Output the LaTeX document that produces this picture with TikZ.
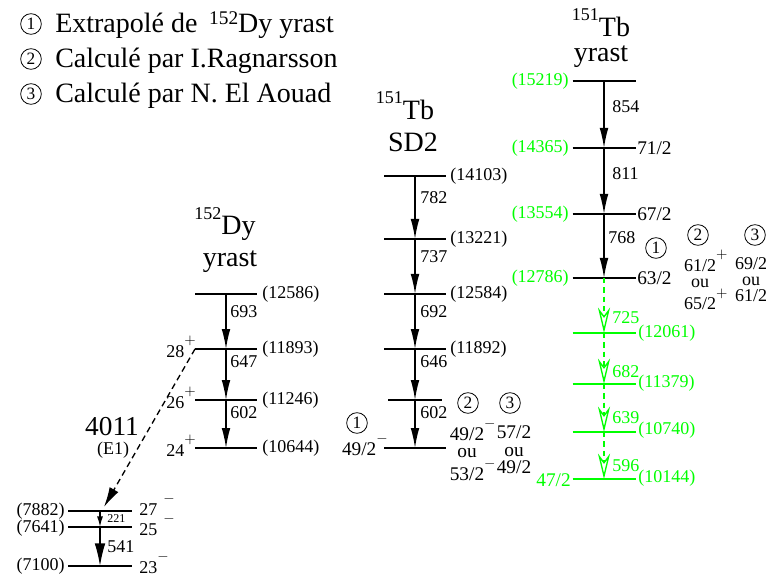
\documentclass[tikz,border=0pt]{standalone}
\usepackage{fontspec}
\setmainfont{Liberation Serif}
\usetikzlibrary{arrows.meta}

\newcommand\iso[2]{\raisebox{12pt}{\fontsize{13.5}{13.5}\selectfont #1}#2}
\newcommand\up[1]{\raisebox{9.5pt}{\fontsize{11}{11}\selectfont$#1$}}

\begin{document}
\begin{tikzpicture}[x=0.75pt, y=-0.75pt,
    lvl/.style={line width=1.3pt},
    tr/.style={line width=1pt, -{Latex[length=15pt,width=6.5pt]}},
    gtr/.style={line width=1pt, green, dash pattern=on 4pt off 3pt, -{Stealth[open,length=19pt,width=9pt,inset=6pt]}},
    big/.style={inner sep=0pt, font=\fontsize{21}{24}\selectfont},
    num/.style={inner sep=0pt, font=\fontsize{13.5}{16}\selectfont},
    spin/.style={inner sep=0pt, font=\fontsize{14.5}{17}\selectfont},
    col/.style={inner sep=0pt, align=center, font=\fontsize{14}{12}\selectfont},
    cnum/.style={circle, draw, line width=0.6pt, minimum size=15.5pt, inner sep=0pt, font=\fontsize{13}{13}\selectfont}]

    \useasboundingbox (0,0) rectangle (768,581);

    % legende
    \node[cnum] (c1) at (31,24) {1};
    \node[cnum] (c2) at (31,59) {2};
    \node[cnum] (c3) at (31,94) {3};
    \node[big, anchor=base west] (t1) at (55,33) {Extrapolé de\, \raisebox{6pt}{\fontsize{14.5}{14.5}\selectfont 152}Dy yrast};
    \node[big, anchor=base west] (t2) at (55,68) {Calculé par I.Ragnarsson};
    \node[big, anchor=base west] (t3) at (55,103) {Calculé par N. El Aouad};

    % 152Dy yrast
    \node[big, anchor=base] (dyname) at (225,235) {\iso{152}Dy};
    \node[big, anchor=base] (dyband) at (230,267) {yrast};
    \coordinate (dy1) at (226,294);
    \coordinate (dy2) at (226,349);
    \coordinate (dy3) at (226,400);
    \coordinate (dy4) at (226,448);
    \foreach \c in {dy1,dy2,dy3,dy4}
        \draw[lvl] (\c) +(-31,0) -- +(31,0);
    \draw[tr] (dy1) -- (dy2);
    \draw[tr] (dy2) -- (dy3);
    \draw[tr] (dy3) -- (dy4);
    \node[num, anchor=west] (dy1e) at (262,294) {(12586)};
    \node[num, anchor=west] (dy2e) at (262,349) {(11893)};
    \node[num, anchor=west] (dy3e) at (262,400) {(11246)};
    \node[num, anchor=west] (dy4e) at (262,448) {(10644)};
    \node[num, anchor=west] (dy12) at (230,312) {693};
    \node[num, anchor=west] (dy23) at (230,362) {647};
    \node[num, anchor=west] (dy34) at (230,413) {602};
    \node[num, anchor=base east] (dy2s) at (196,357) {28\up{+}};
    \node[num, anchor=base east] (dy3s) at (196,408) {26\up{+}};
    \node[num, anchor=base east] (dy4s) at (196,456) {24\up{+}};

    % niveaux bas
    \coordinate (lo1) at (100,511);
    \coordinate (lo2) at (100,527);
    \coordinate (lo3) at (100,566);
    \foreach \c in {lo1,lo2,lo3}
        \draw[lvl] (\c) +(-32,0) -- +(32,0);
    \draw[tr, -{Latex[length=8pt,width=4.5pt]}] (lo1) -- (lo2);
    \draw[tr, -{Latex[length=17pt,width=8pt]}] (lo2) -- (lo3);
    \node[num, anchor=east] (lo1e) at (65,511) {(7882)};
    \node[num, anchor=east] (lo2e) at (65,528) {(7641)};
    \node[num, anchor=east] (lo3e) at (65,566) {(7100)};
    \node[num, anchor=base west] (lo1s) at (139,515) {27\hspace{4.5pt}\up{-}};
    \node[num, anchor=base west] (lo2s) at (139,535) {25\hspace{4.5pt}\up{-}};
    \node[num, anchor=base west] (lo3s) at (139,573) {23\up{-}};
    \node[inner sep=0pt, anchor=west, font=\fontsize{9}{10}\selectfont] (lo12) at (107,519) {221};
    \node[num, anchor=west] (lo23) at (107,547) {541};

    % transition E1
    \coordinate (e1a) at (195,349);
    \coordinate (e1b) at (104,507);
    \draw[line width=1pt, dash pattern=on 4.5pt off 3pt, -{Latex[length=15pt,width=7.5pt]}] (e1a) -- (e1b);
    \node[inner sep=0pt, anchor=base, font=\fontsize{20.5}{24}\selectfont] (e1n) at (112,435) {4011};
    \node[num] (e1m) at (113,450) {(E1)};

    % 151Tb SD2
    \node[big, anchor=base] (sdname) at (405,120) {\iso{151}Tb};
    \node[big, anchor=base] (sdband) at (413,152) {SD2};
    \coordinate (sd1) at (415,176);
    \coordinate (sd2) at (415,239);
    \coordinate (sd3) at (415,294);
    \coordinate (sd4) at (415,349);
    \coordinate (sd5) at (415,400);
    \coordinate (sd6) at (415,448);
    \foreach \c in {sd1,sd2,sd3,sd4,sd6}
        \draw[lvl] (\c) +(-31,0) -- +(31,0);
    \draw[lvl] (sd5) +(-27,0) -- +(27,0);
    \draw[tr] (sd1) -- (sd2);
    \draw[tr] (sd2) -- (sd3);
    \draw[tr] (sd3) -- (sd4);
    \draw[tr] (sd4) -- (sd5);
    \draw[tr] (sd5) -- (sd6);
    \node[num, anchor=west] (sd1e) at (450,176) {(14103)};
    \node[num, anchor=west] (sd2e) at (450,239) {(13221)};
    \node[num, anchor=west] (sd3e) at (450,294) {(12584)};
    \node[num, anchor=west] (sd4e) at (450,349) {(11892)};
    \node[num, anchor=west] (sd12) at (420,198) {782};
    \node[num, anchor=west] (sd23) at (420,257) {737};
    \node[num, anchor=west] (sd34) at (420,312) {692};
    \node[num, anchor=west] (sd45) at (420,362) {646};
    \node[num, anchor=west] (sd56) at (420,413) {602};
    \node[cnum] (sdc1) at (357,423) {1};
    \node[spin, anchor=base east] (sd6s) at (388,455) {49/2\up{-}};
    \node[cnum] (sdc2) at (468,403) {2};
    \node[cnum] (sdc3) at (510,403) {3};
    \node[col, font=\fontsize{14.5}{13}\selectfont] (sda) at (467,450) {49/2\rlap{\up{-}}\\ou\\53/2\rlap{\up{-}}};
    \node[col, font=\fontsize{14.5}{13}\selectfont] (sdb) at (514,450) {57/2\\ou\\49/2};

    % 151Tb yrast
    \node[big, align=center, anchor=south, font=\fontsize{21}{18.75}\selectfont] (tyname) at (601,68) {\iso{151}Tb\\yrast};
    \coordinate (ty1) at (604,81);
    \coordinate (ty2) at (604,148);
    \coordinate (ty3) at (604,214);
    \coordinate (ty4) at (604,278);
    \coordinate (tg1) at (604,333);
    \coordinate (tg2) at (604,384);
    \coordinate (tg3) at (604,432);
    \coordinate (tg4) at (604,479);
    \foreach \c in {ty1,ty2,ty3,ty4}
        \draw[lvl] (\c) +(-31.5,0) -- +(31.5,0);
    \foreach \c in {tg1,tg2,tg3,tg4}
        \draw[lvl, green] (\c) +(-31.5,0) -- +(31.5,0);
    \draw[tr] (ty1) -- (ty2);
    \draw[tr] (ty2) -- (ty3);
    \draw[tr] (ty3) -- (ty4);
    \draw[gtr] (ty4) -- (tg1);
    \draw[gtr] (tg1) -- (tg2);
    \draw[gtr] (tg2) -- (tg3);
    \draw[gtr] (tg3) -- (tg4);
    \node[num, green, anchor=east] (ty1e) at (569,81) {(15219)};
    \node[num, green, anchor=east] (ty2e) at (569,148) {(14365)};
    \node[num, green, anchor=east] (ty3e) at (569,214) {(13554)};
    \node[num, green, anchor=east] (ty4e) at (569,278) {(12786)};
    \node[spin, anchor=west] (ty2s) at (637,148) {71/2};
    \node[spin, anchor=west] (ty3s) at (637,214) {67/2};
    \node[spin, anchor=west] (ty4s) at (637,278) {63/2};
    \node[num, anchor=west] (ty12) at (612,107) {854};
    \node[num, anchor=west] (ty23) at (612,174) {811};
    \node[num, anchor=west] (ty34) at (608,238) {768};
    \node[cnum] (tyc1) at (656,248) {1};
    \node[cnum] (tyc2) at (698,235) {2};
    \node[cnum] (tyc3) at (755,235) {3};
    \node[col, font=\fontsize{13.5}{12}\selectfont] (tya) at (700,280) {61/2\rlap{\up{+}}\\ou\\65/2\rlap{\up{+}}};
    \node[col, font=\fontsize{13.5}{12}\selectfont] (tyb) at (751,280) {69/2\\ou\\61/2};
    \node[num, green, anchor=west] (tg01) at (612,318) {725};
    \node[num, green, anchor=west] (tg12) at (612,372) {682};
    \node[num, green, anchor=west] (tg23) at (612,418) {639};
    \node[num, green, anchor=west] (tg34) at (612,466) {596};
    \node[num, green, anchor=west] (tg1e) at (638,333) {(12061)};
    \node[num, green, anchor=west] (tg2e) at (638,383) {(11379)};
    \node[num, green, anchor=west] (tg3e) at (638,430) {(10740)};
    \node[num, green, anchor=west] (tg4e) at (638,478) {(10144)};
    \node[spin, green, anchor=east] (tg4s) at (571,480) {47/2};
\end{tikzpicture}
\end{document}
